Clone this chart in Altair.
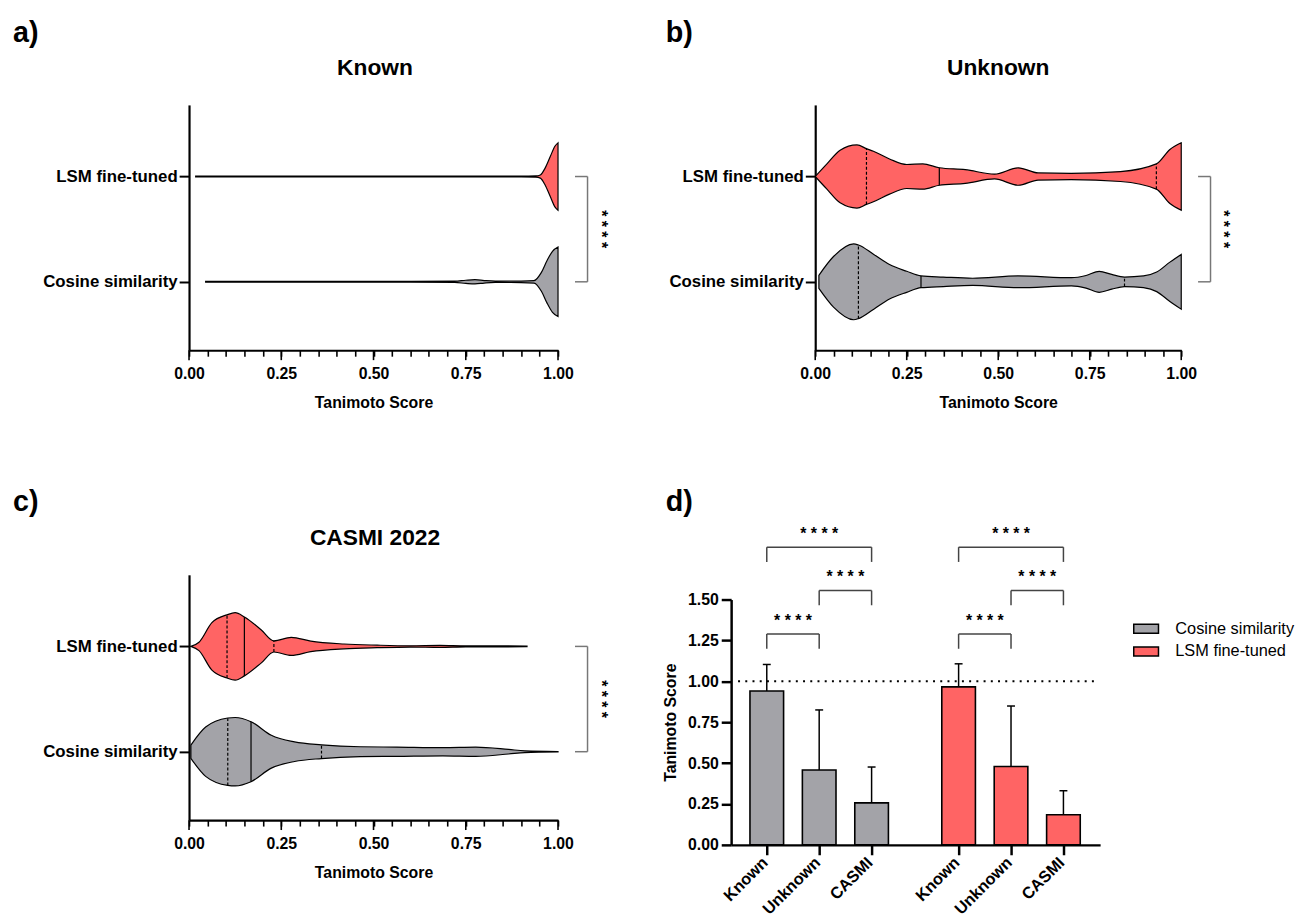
import altair as alt
import pandas as pd

FONT = "Liberation Sans"
GRAY = "#A3A3A8"
RED = "#FF6464"
METHODS = ["Cosine similarity", "LSM fine-tuned"]
COLORS = [GRAY, RED]

# Tanimoto score axis ticks (minor every 0.05, major/labelled at quarters)
SCORE_TICKS = [0.0, 0.05, 0.1, 0.15, 0.2, 0.25, 0.3, 0.35, 0.4, 0.45, 0.5,
               0.55, 0.6, 0.65, 0.7, 0.75, 0.8, 0.85, 0.9, 0.95, 1.0]
MAJOR_TICKS = [0.0, 0.25, 0.5, 0.75, 1.0]

# ---------------- violin outlines: score position and half-width ----------------
# a) Known
known_cos_x = [0.045, 0.30, 0.60, 0.72, 0.75, 0.775, 0.80, 0.83, 0.90, 0.935, 0.955, 0.97, 0.985, 1.0]
known_cos_w = [0.004, 0.004, 0.004, 0.006, 0.015, 0.02, 0.012, 0.006, 0.007, 0.012, 0.09, 0.2, 0.29, 0.33]
known_lsm_x = [0.018, 0.30, 0.60, 0.90, 0.94, 0.952, 0.965, 0.979, 0.992, 1.0]
known_lsm_w = [0.004, 0.004, 0.004, 0.004, 0.006, 0.015, 0.08, 0.19, 0.29, 0.32]

# b) Unknown
unk_cos_x = [0.01, 0.05, 0.105, 0.118, 0.16, 0.203, 0.25, 0.289, 0.35, 0.43, 0.555, 0.70,
             0.74, 0.776, 0.81, 0.845, 0.897, 0.933, 0.969, 1.0]
unk_cos_w = [0.062, 0.24, 0.36, 0.35, 0.26, 0.164, 0.10, 0.056, 0.045, 0.034, 0.056, 0.039,
             0.06, 0.10, 0.07, 0.045, 0.056, 0.093, 0.187, 0.26]
unk_lsm_x = [0.0, 0.032, 0.068, 0.114, 0.14, 0.159, 0.203, 0.25, 0.294, 0.339, 0.41, 0.49,
             0.555, 0.609, 0.699, 0.834, 0.932, 0.969, 1.0]
unk_lsm_w = [0.0, 0.12, 0.25, 0.30, 0.265, 0.24, 0.167, 0.114, 0.12, 0.083, 0.065, 0.023,
             0.083, 0.034, 0.03, 0.047, 0.12, 0.257, 0.32]

# c) CASMI 2022
cas_cos_x = [0.005, 0.045, 0.105, 0.125, 0.168, 0.223, 0.286, 0.359, 0.464, 0.563, 0.688,
             0.777, 0.866, 0.91, 1.0]
cas_cos_w = [0.063, 0.234, 0.32, 0.325, 0.285, 0.156, 0.093, 0.065, 0.047, 0.044, 0.039,
             0.044, 0.022, 0.008, 0.002]
cas_lsm_x = [0.005, 0.027, 0.062, 0.103, 0.125, 0.15, 0.196, 0.23, 0.277, 0.33, 0.42, 0.51,
             0.60, 0.68, 0.75, 0.85, 0.916]
cas_lsm_w = [0.0, 0.04, 0.226, 0.30, 0.32, 0.28, 0.156, 0.053, 0.086, 0.05, 0.023, 0.012,
             0.006, 0.01, 0.005, 0.005, 0.003]

# quartile lines (Q1, median, Q3): score and half-width
Q_KIND = ["quartile", "median", "quartile"]
unk_cos_qx = [0.118, 0.289, 0.845]
unk_cos_qw = [0.35, 0.056, 0.045]
unk_lsm_qx = [0.14, 0.339, 0.932]
unk_lsm_qw = [0.265, 0.083, 0.12]
cas_cos_qx = [0.105, 0.168, 0.359]
cas_cos_qw = [0.32, 0.285, 0.065]
cas_lsm_qx = [0.103, 0.15, 0.23]
cas_lsm_qw = [0.30, 0.28, 0.053]

SIG = "* * * *"

# ---------------- d) bar chart ----------------
CATS = ["Known", "Unknown", "CASMI"]
cos_mean = [0.941, 0.458, 0.257]
cos_sd = [0.162, 0.367, 0.219]
lsm_mean = [0.966, 0.479, 0.184]
lsm_sd = [0.141, 0.370, 0.147]
br_from = [0, 1, 0]
br_to = [1, 2, 2]
br_level = [1.289, 1.555, 1.82]

# ---------------- layout constants ----------------
PW, PH = 373, 248
Y_DOM = [-0.65, 1.68]
BR_IN, BR_OUT, BR_TXT = 1.046, 1.08, 1.115


def violin_panel(profiles, quarts, title, letter, x_off, x_span, title_x, letter_x):
    rows = []
    for m, xs, ws in profiles:
        c = float(METHODS.index(m))
        for xv, wv in zip(xs, ws):
            rows.append({"method": m, "score": xv, "hi": c + wv, "lo": c - wv})
    vdf = pd.DataFrame(rows)
    qrows = []
    for m, xs, ws in quarts:
        c = float(METHODS.index(m))
        for xv, wv, k in zip(xs, ws, Q_KIND):
            qrows.append({"method": m, "score": xv, "hi": c + wv, "lo": c - wv, "kind": k})
    qdf = pd.DataFrame(qrows, columns=["method", "score", "hi", "lo", "kind"])

    xsc = alt.Scale(domain=[0, 1], range=[x_off, x_off + x_span], nice=False, zero=False)
    ysc = alt.Scale(domain=Y_DOM, nice=False, zero=False)
    quarter = "abs(datum.value*4 - round(datum.value*4)) < 0.001"
    x_axis = alt.Axis(values=SCORE_TICKS, format=".2f",
                      labelExpr=quarter + " ? datum.label : ''",
                      tickSize=6, tickWidth=1.6, domainWidth=2.2, labelFontSize=16,
                      labelFontWeight="bold", labelPadding=10, labelFlush=False,
                      labelOverlap=False, tickCount=21,
                      title="Tanimoto Score", titleFontSize=16, titleFontWeight="bold",
                      titlePadding=13)
    lab = "datum.value > 0.5 ? '%s' : '%s'" % (METHODS[1], METHODS[0])
    y_axis = alt.Axis(values=[0, 1], labelExpr=lab, title=None, tickSize=10, tickWidth=2,
                      domainWidth=2.2, labelFontSize=17, labelFontWeight="bold",
                      labelPadding=2, offset=-x_off)

    area = alt.Chart(vdf).mark_area(orient="vertical", interpolate="monotone", stroke="black",
                                    strokeWidth=1.2, opacity=1).encode(
        x=alt.X("score:Q", scale=xsc, axis=x_axis),
        y=alt.Y("hi:Q", scale=ysc, axis=y_axis),
        y2="lo:Q",
        fill=alt.Fill("method:N", scale=alt.Scale(domain=METHODS, range=COLORS), legend=None),
    )
    layers = [area]
    if len(qdf):
        ql = alt.Chart(qdf).mark_rule(color="black", strokeWidth=1.2).encode(
            x=alt.X("score:Q", scale=xsc),
            y=alt.Y("lo:Q", scale=ysc),
            y2="hi:Q",
            strokeDash=alt.StrokeDash("kind:N", scale=alt.Scale(domain=["median", "quartile"],
                                                                 range=[[1, 0], [3, 2]]),
                                      legend=None),
        )
        layers.append(ql)
    # longer major ticks on the score axis
    mt = alt.Chart(pd.DataFrame({"score": MAJOR_TICKS})).mark_rule(
        color="black", strokeWidth=1.6).encode(
        x=alt.X("score:Q", scale=xsc), y=alt.value(PH), y2=alt.value(PH + 10))
    bdf = pd.DataFrame({"x": [BR_IN, BR_IN, BR_OUT], "x2": [BR_OUT, BR_OUT, BR_OUT],
                        "y": [0.0, 1.0, 0.0], "y2": [0.0, 1.0, 1.0]})
    br = alt.Chart(bdf).mark_rule(color="#777777", strokeWidth=1.5).encode(
        x=alt.X("x:Q", scale=xsc), x2="x2:Q", y=alt.Y("y:Q", scale=ysc), y2="y2:Q")
    sdf = pd.DataFrame({"x": [BR_TXT], "y": [0.5], "t": [SIG]})
    st = alt.Chart(sdf).mark_text(font=FONT, fontSize=16, fontWeight="bold", angle=90,
                                  align="center", baseline="middle", color="black").encode(
        x=alt.X("x:Q", scale=xsc), y=alt.Y("y:Q", scale=ysc), text="t:N")
    tdf = pd.DataFrame({"t": [title]})
    tt = alt.Chart(tdf).mark_text(font=FONT, fontSize=23, fontWeight="bold", align="center",
                                  baseline="alphabetic", color="black").encode(
        text="t:N", x=alt.value(title_x), y=alt.value(-30.5))
    ldf = pd.DataFrame({"t": [letter]})
    lt = alt.Chart(ldf).mark_text(font=FONT, fontSize=29, fontWeight="bold", align="left",
                                  baseline="alphabetic", color="black").encode(
        text="t:N", x=alt.value(letter_x), y=alt.value(-64))
    layers += [mt, br, st, tt, lt]
    return alt.layer(*layers).properties(width=PW, height=PH)


pa = violin_panel([(METHODS[0], known_cos_x, known_cos_w), (METHODS[1], known_lsm_x, known_lsm_w)],
                  [], "Known", "a)", 0, 373, 188, -178)
pb = violin_panel([(METHODS[0], unk_cos_x, unk_cos_w), (METHODS[1], unk_lsm_x, unk_lsm_w)],
                  [(METHODS[0], unk_cos_qx, unk_cos_qw), (METHODS[1], unk_lsm_qx, unk_lsm_qw)],
                  "Unknown", "b)", 85, 370, 270, -66)
pc = violin_panel([(METHODS[0], cas_cos_x, cas_cos_w), (METHODS[1], cas_lsm_x, cas_lsm_w)],
                  [(METHODS[0], cas_cos_qx, cas_cos_qw), (METHODS[1], cas_lsm_qx, cas_lsm_qw)],
                  "CASMI 2022", "c)", 0, 373, 188, -178)

# ---------------- panel d ----------------
GROUP_START = [0.68, 4.34]
XD = [0, 7.04]
brows = []
for g, (m, means, sds) in enumerate([(METHODS[0], cos_mean, cos_sd), (METHODS[1], lsm_mean, lsm_sd)]):
    for i, c in enumerate(CATS):
        brows.append({"method": m, "cat": c, "pos": GROUP_START[g] + i,
                      "mean": means[i], "top": means[i] + sds[i]})
bar_df = pd.DataFrame(brows)
positions = list(bar_df["pos"])
label_expr = " : ".join("abs(datum.value - %.3f) < 0.01 ? '%s'" % (p, c)
                        for p, c in zip(bar_df["pos"], bar_df["cat"])) + " : ''"

xsd = alt.Scale(domain=XD, nice=False, zero=False, padding=0)
ysd = alt.Scale(domain=[0, 1.5], range=[273, 25], nice=False)
xd_axis = alt.Axis(values=positions, labelExpr=label_expr, labelAngle=-45, labelAlign="right",
                   labelBaseline="middle", labelFontSize=16.5, labelFontWeight="bold",
                   labelPadding=5, labelOffset=-2, tickSize=10, tickWidth=2.5, domainWidth=2.5,
                   title=None, offset=25, labelFlush=False, labelOverlap=False)
yd_axis = alt.Axis(values=[0, 0.25, 0.5, 0.75, 1.0, 1.25, 1.5], format=".2f", tickSize=10,
                   tickWidth=2.5, domainWidth=2.5, labelFontSize=16, labelFontWeight="bold",
                   labelPadding=3, title="Tanimoto Score", titleFontSize=16,
                   titleFontWeight="bold", titlePadding=9)

ref = alt.Chart(pd.DataFrame({"y": [1.0]})).mark_rule(color="black", strokeWidth=2,
                                                      strokeDash=[2, 5.3]).encode(
    y=alt.Y("y:Q", scale=ysd, axis=yd_axis), x=alt.value(7), x2=alt.value(367))
bars = alt.Chart(bar_df).mark_bar(size=34, stroke="black", strokeWidth=1.6, opacity=1).encode(
    x=alt.X("pos:Q", scale=xsd, axis=xd_axis),
    y=alt.Y("mean:Q", scale=ysd),
    fill=alt.Fill("method:N", scale=alt.Scale(domain=METHODS, range=COLORS),
                  legend=alt.Legend(orient="none", legendX=406, legendY=43, title=None,
                                    symbolType="M-1,-0.36L1,-0.36L1,0.36L-1,0.36Z",
                                    symbolSize=625, symbolStrokeColor="black",
                                    symbolStrokeWidth=1.5, symbolOpacity=1,
                                    labelFont=FONT, labelFontSize=16.5, labelColor="black",
                                    labelOffset=16, clipHeight=23, rowPadding=0,
                                    labelLimit=300)),
)
err = alt.Chart(bar_df).mark_rule(color="black", strokeWidth=1.5).encode(
    x=alt.X("pos:Q", scale=xsd), y=alt.Y("mean:Q", scale=ysd), y2="top:Q")
cap = alt.Chart(bar_df).mark_point(shape="M-1,0L1,0", size=64, filled=False, color="black",
                                   strokeWidth=1.5, opacity=1).encode(
    x=alt.X("pos:Q", scale=xsd), y=alt.Y("top:Q", scale=ysd))

lrows, srows = [], []
for g in range(2):
    for a, b, lv in zip(br_from, br_to, br_level):
        xa, xb = GROUP_START[g] + a, GROUP_START[g] + b
        lrows.append({"x": xa, "x2": xb, "y": lv, "y2": lv})
        lrows.append({"x": xa, "x2": xa, "y": lv, "y2": lv - 0.09})
        lrows.append({"x": xb, "x2": xb, "y": lv, "y2": lv - 0.09})
        srows.append({"x": (xa + xb) / 2, "y": lv + 0.08, "t": SIG})
brk = alt.Chart(pd.DataFrame(lrows)).mark_rule(color="#444444", strokeWidth=1.5).encode(
    x=alt.X("x:Q", scale=xsd), x2="x2:Q", y=alt.Y("y:Q", scale=ysd), y2="y2:Q")
stars = alt.Chart(pd.DataFrame(srows)).mark_text(font=FONT, fontSize=16, fontWeight="bold",
                                                 align="center", baseline="middle",
                                                 color="black").encode(
    x=alt.X("x:Q", scale=xsd), y=alt.Y("y:Q", scale=ysd), text="t:N")
dlet = alt.Chart(pd.DataFrame({"t": ["d)"]})).mark_text(
    font=FONT, fontSize=29, fontWeight="bold", align="left", baseline="alphabetic",
    color="black").encode(text="t:N", x=alt.value(-66), y=alt.value(-64))

pd_ = alt.layer(ref, bars, err, cap, brk, stars, dlet).properties(width=PW, height=PH)

chart = alt.concat(pa, pb, pc, pd_, columns=2, spacing={"row": 227, "column": 175}).properties(
    bounds="flush", padding={"left": 5, "top": 6, "right": 0, "bottom": 0}
).resolve_scale(fill="independent").configure_view(strokeWidth=0).configure_axis(
    grid=False, labelFont=FONT, titleFont=FONT, labelColor="black", titleColor="black",
    domainColor="black", tickColor="black")

chart.save("out.html", embed_options={"renderer": "svg", "actions": False})
